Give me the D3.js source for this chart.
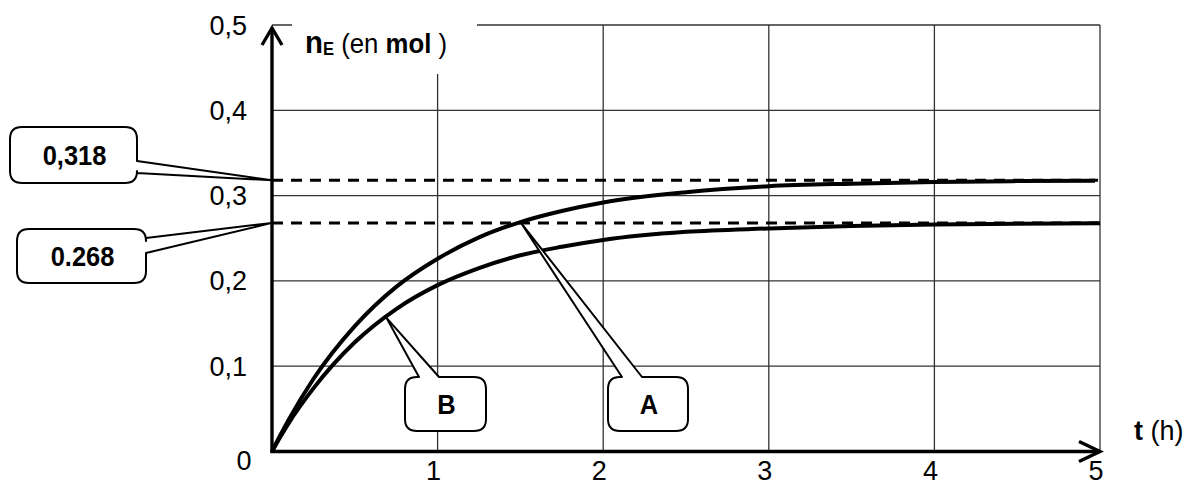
<!DOCTYPE html>
<html>
<head>
<meta charset="utf-8">
<script src="https://cdn.jsdelivr.net/npm/d3@7"></script>
<style>
  html, body { margin: 0; padding: 0; background: #fff; }
  svg { display: block; font-family: "Liberation Sans", Arial, sans-serif; }
</style>
</head>
<body>
<svg id="chart" width="1195" height="486"></svg>
<script>
// Amount of ester n_E (mol) versus time t (h) for two experiments A and B.
const timeA = [0, 0.05, 0.1, 0.25, 0.5, 0.75, 1, 1.25, 1.5, 1.75, 2, 2.5, 3, 3.5, 4, 4.5, 4.97];
const valuesA = [0, 0.019, 0.037, 0.085, 0.147, 0.193, 0.226, 0.251, 0.269, 0.282, 0.292, 0.304, 0.311, 0.314, 0.316, 0.317, 0.3175];

const timeB = [0, 0.05, 0.1, 0.25, 0.5, 0.75, 1, 1.25, 1.5, 1.75, 2, 2.5, 3, 3.5, 4, 4.5, 5];
const valuesB = [0, 0.017, 0.033, 0.074, 0.128, 0.167, 0.195, 0.215, 0.230, 0.240, 0.248, 0.2575, 0.2615, 0.2645, 0.266, 0.267, 0.2675];

// Final amounts (horizontal asymptotes)
const levels = [0.318, 0.268];
const levelLabels = ["0,318", "0.268"];

const xTicks = [1, 2, 3, 4, 5];
const xTickLabels = ["1", "2", "3", "4", "5"];
const yTicks = [0.1, 0.2, 0.3, 0.4, 0.5];
const yTickLabels = ["0,1", "0,2", "0,3", "0,4", "0,5"];

// Points on the curves where the A / B callouts attach
const markA = { t: 1.5, v: 0.269 };
const markB = { t: 0.69, v: 0.157 };

const svg = d3.select("#chart");
const x = d3.scaleLinear().domain([0, 5]).range([272, 1100]);
const y = d3.scaleLinear().domain([0, 0.5]).range([451.5, 25]);

const gridColor = "#333";

// Grid
const grid = svg.append("g");
grid.selectAll("line.v").data(xTicks).join("line")
  .attr("x1", d => x(d)).attr("x2", d => x(d))
  .attr("y1", y(0.5)).attr("y2", y(0))
  .attr("stroke", gridColor).attr("stroke-width", 1.3);
grid.selectAll("line.h").data(yTicks).join("line")
  .attr("x1", x(0)).attr("x2", x(5))
  .attr("y1", d => y(d)).attr("y2", d => y(d))
  .attr("stroke", gridColor).attr("stroke-width", 1.3);

// Blank area behind the quantity label
svg.append("rect").attr("x", 292).attr("y", 18).attr("width", 185).attr("height", 56).attr("fill", "#fff");

const title = svg.append("text").attr("transform", "translate(305,53) scale(0.92,1)")
  .attr("font-size", 28).attr("fill", "#000");
title.append("tspan").attr("font-weight", "bold").attr("font-size", 32).text("n");
title.append("tspan").attr("font-weight", "bold").attr("font-size", 18).attr("dy", 2).text("E");
title.append("tspan").attr("dy", -2).text(" (en ");
title.append("tspan").attr("font-weight", "bold").text("mol");
title.append("tspan").text(" )");

// Dashed asymptotes
svg.append("g").selectAll("line").data(levels).join("line")
  .attr("x1", x(0)).attr("x2", x(5) - 2)
  .attr("y1", d => y(d)).attr("y2", d => y(d))
  .attr("stroke", "#000").attr("stroke-width", 3)
  .attr("stroke-dasharray", "11,8");

// Curves
const line = d3.line().x(d => x(d[0])).y(d => y(d[1])).curve(d3.curveMonotoneX);
const seriesA = timeA.map((t, i) => [t, valuesA[i]]);
const seriesB = timeB.map((t, i) => [t, valuesB[i]]);
svg.append("path").datum(seriesA).attr("d", line)
  .attr("fill", "none").attr("stroke", "#000").attr("stroke-width", 4).attr("stroke-linejoin", "round");
svg.append("path").datum(seriesB).attr("d", line)
  .attr("fill", "none").attr("stroke", "#000").attr("stroke-width", 4).attr("stroke-linejoin", "round");

// Axes with open arrowheads
const axes = svg.append("g").attr("stroke", "#000").attr("stroke-width", 3.4).attr("fill", "none")
  .attr("stroke-linecap", "butt").attr("stroke-linejoin", "miter");
axes.append("line").attr("x1", x(0)).attr("x2", x(0)).attr("y1", y(0) + 1.5).attr("y2", 28);
axes.append("path").attr("d", `M${x(0) - 10},45 L${x(0)},28 L${x(0) + 10},45`);
axes.append("line").attr("x1", x(0) - 1.5).attr("x2", x(5)).attr("y1", y(0)).attr("y2", y(0));
axes.append("path").attr("d", `M${x(5) - 21},${y(0) - 10} L${x(5)},${y(0)} L${x(5) - 21},${y(0) + 10}`);

// Tick labels
const labels = svg.append("g").attr("font-size", 27).attr("fill", "#000");
labels.selectAll("text.x").data(xTicks).join("text")
  .attr("x", d => x(d) - 4).attr("y", 480).attr("text-anchor", "middle")
  .text((d, i) => xTickLabels[i]);
labels.selectAll("text.y").data(yTicks).join("text")
  .attr("x", 247).attr("y", d => y(d) + 9.5).attr("text-anchor", "end")
  .text((d, i) => yTickLabels[i]);
labels.append("text").attr("x", 244).attr("y", 470).attr("text-anchor", "middle").text("0");

const tLabel = svg.append("text").attr("x", 1134).attr("y", 440).attr("font-size", 27).attr("fill", "#000");
tLabel.append("tspan").attr("font-weight", "bold").text("t");
tLabel.append("tspan").text(" (h)");

// Callouts: rounded box with a wedge pointing at the curve / level
function calloutPath(b, side, base, tip) {
  const [bx, by, bw, bh] = b, r = 12;
  const [tx, ty] = tip;
  let p = `M${bx + r},${by}`;
  if (side === "top") {
    p += ` L${base[0]},${by} L${tx},${ty} L${base[1]},${by}`;
  }
  p += ` L${bx + bw - r},${by} Q${bx + bw},${by} ${bx + bw},${by + r}`;
  if (side === "right") {
    p += ` L${bx + bw},${base[0]} L${tx},${ty} L${bx + bw},${base[1]}`;
  }
  p += ` L${bx + bw},${by + bh - r} Q${bx + bw},${by + bh} ${bx + bw - r},${by + bh}`;
  p += ` L${bx + r},${by + bh} Q${bx},${by + bh} ${bx},${by + bh - r}`;
  p += ` L${bx},${by + r} Q${bx},${by} ${bx + r},${by} Z`;
  return p;
}

const callouts = [
  { text: levelLabels[0], box: [10, 127, 127, 56], side: "right", base: [161, 173], tip: [x(0), y(levels[0])] },
  { text: levelLabels[1], box: [17, 229, 129, 54], side: "right", base: [238, 253], tip: [x(0), y(levels[1])] },
  { text: "B", box: [405, 377, 81, 54], side: "top", base: [419, 439], tip: [x(markB.t), y(markB.v)] },
  { text: "A", box: [608, 377, 80, 54], side: "top", base: [622, 642], tip: [x(markA.t), y(markA.v)] }
];

const cg = svg.append("g");
callouts.forEach(c => {
  cg.append("path").attr("d", calloutPath(c.box, c.side, c.base, c.tip))
    .attr("fill", "#fff").attr("stroke", "#000").attr("stroke-width", 2).attr("stroke-linejoin", "round");
  const cx = c.box[0] + c.box[2] / 2 + 1;
  const cy = c.box[1] + c.box[3] / 2 + 10;
  cg.append("text")
    .attr("transform", `translate(${cx},${cy}) scale(0.91,1)`)
    .attr("text-anchor", "middle").attr("font-size", 28).attr("font-weight", "bold")
    .attr("fill", "#000").text(c.text);
});
</script>
</body>
</html>
